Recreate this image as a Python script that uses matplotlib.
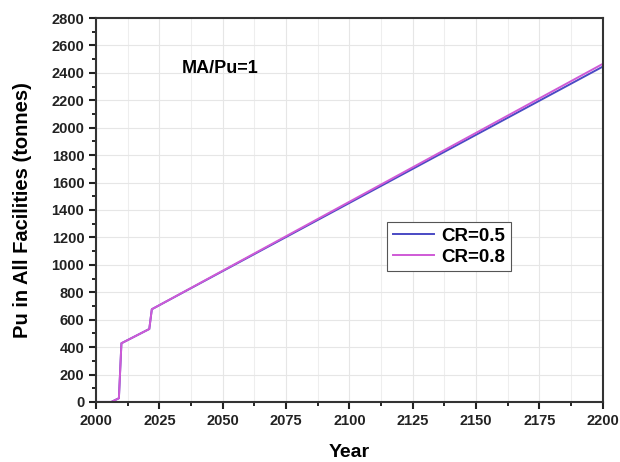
import matplotlib
matplotlib.use("Agg")
import matplotlib.pyplot as plt
from matplotlib.ticker import MultipleLocator

# data
years_05 = [2000, 2006, 2009, 2010, 2021, 2022, 2200]
pu_05 = [0, 0, 27, 428, 532, 676, 2445]
years_08 = [2000, 2006, 2009, 2010, 2021, 2022, 2200]
pu_08 = [0, 0, 27, 428, 532, 676, 2465]
xticks = [2000, 2025, 2050, 2075, 2100, 2125, 2150, 2175, 2200]
yticks = list(range(0, 2801, 200))

plt.rcParams['font.family'] = ['Liberation Sans', 'DejaVu Sans']
plt.rcParams['font.weight'] = 'bold'

fig = plt.figure(figsize=(6.2, 4.62), dpi=100)
ax = fig.add_axes([0.155, 0.13, 0.817, 0.831])

ax.plot(years_05, pu_05, color='#4a4ac4', lw=1.4, label='CR=0.5')
ax.plot(years_08, pu_08, color='#cf5ad6', lw=1.4, label='CR=0.8')

ax.set_xlim(2000, 2200)
ax.set_ylim(0, 2800)
ax.set_xticks(xticks)
ax.set_yticks(yticks)
ax.xaxis.set_minor_locator(MultipleLocator(12.5))
ax.yaxis.set_minor_locator(MultipleLocator(100))
ax.grid(True, which='major', color='#e6e6e6', lw=0.8)
ax.grid(True, which='minor', axis='x', color='#eeeeee', lw=0.8)
ax.set_axisbelow(True)

ax.tick_params(which='major', direction='out', length=5, width=1.5, labelsize=10.5, colors='#222222')
ax.tick_params(which='minor', direction='out', length=3, width=1.2)
ax.tick_params(top=False, right=False, which='both')
for lbl in ax.get_xticklabels() + ax.get_yticklabels():
    lbl.set_fontweight('bold')
for s in ax.spines.values():
    s.set_linewidth(1.5)
    s.set_color('#333333')

ax.set_xlabel('Year', fontsize=14, fontweight='bold', labelpad=12)
ax.set_ylabel('Pu in All Facilities (tonnes)', fontsize=14.5, fontweight='bold', labelpad=14)

ax.text(2034, 2430, 'MA/Pu=1', fontsize=13, fontweight='bold', va='center')

leg = ax.legend(loc='lower left', bbox_to_anchor=(0.575, 0.34),
                prop={'weight': 'bold', 'size': 13.5}, fancybox=False,
                edgecolor='#555555', framealpha=1, handlelength=2.2,
                handletextpad=0.4, borderpad=0.3, labelspacing=0.2,
                borderaxespad=0)
leg.get_frame().set_linewidth(0.8)

fig.savefig('out.png', dpi=100)
